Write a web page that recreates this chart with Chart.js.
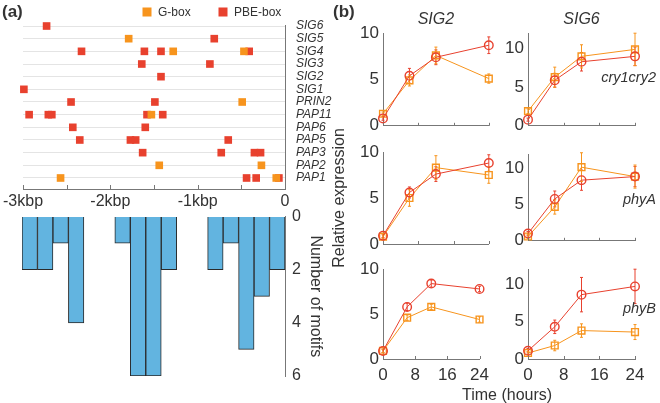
<!DOCTYPE html>
<html><head><meta charset="utf-8">
<script src="https://cdn.jsdelivr.net/npm/chart.js@4.4.1/dist/chart.umd.min.js"></script>
<style>
body{margin:0;background:#fff;}
#wrap{position:relative;width:660px;height:403px;overflow:hidden;font-family:'Liberation Sans',Arial,sans-serif;color:#333;background:#fff;}
canvas{position:absolute;}
.lbl{position:absolute;white-space:nowrap;line-height:1;}
</style></head><body>
<div id="wrap">
<canvas id="cA" width="340" height="212" style="left:0;top:0;width:340px;height:212px"></canvas>
<canvas id="cB" width="325" height="203" style="left:0;top:200px;width:325px;height:203px"></canvas>
<canvas id="c11" width="165" height="140" style="left:330px;top:0;width:165px;height:140px"></canvas>
<canvas id="c12" width="165" height="140" style="left:495px;top:0;width:165px;height:140px"></canvas>
<canvas id="c21" width="165" height="170" style="left:330px;top:110px;width:165px;height:170px"></canvas>
<canvas id="c22" width="165" height="115" style="left:495px;top:140px;width:165px;height:115px"></canvas>
<canvas id="c31" width="165" height="148" style="left:330px;top:255px;width:165px;height:148px"></canvas>
<canvas id="c32" width="165" height="148" style="left:495px;top:255px;width:165px;height:148px"></canvas>
<div class="lbl" style="left:2px;top:3px;font-size:17px;font-weight:bold;">(a)</div>
<div class="lbl" style="left:333px;top:3px;font-size:17px;font-weight:bold;">(b)</div>
<div class="lbl" style="left:462px;top:387px;font-size:16px;">Time (hours)</div>
<div class="lbl" style="right:4px;top:70px;font-size:14.5px;font-style:italic;">cry1cry2</div>
<div class="lbl" style="right:4px;top:192px;font-size:14.5px;font-style:italic;">phyA</div>
<div class="lbl" style="right:4px;top:301px;font-size:14.5px;font-style:italic;">phyB</div>
</div>
<script>
// ---------- Panel (a): motif positions ----------
const genes = ['PAP1','PAP2','PAP3','PAP5','PAP6','PAP11','PRIN2','SIG1','SIG2','SIG3','SIG4','SIG5','SIG6'];
const gboxGene = ['SIG5','SIG4','SIG4','PRIN2','PAP11','PAP2','PAP2','PAP1','PAP1'];
const gboxPos  = [-1.79,-1.28,-0.47,-0.49,-1.53,-1.44,-0.27,-2.57,-0.10];
const pbeGene = ['SIG6','SIG5','SIG4','SIG4','SIG4','SIG4','SIG3','SIG3','SIG2','SIG1',
                 'PRIN2','PRIN2','PAP11','PAP11','PAP11','PAP11','PAP11','PAP6','PAP6',
                 'PAP5','PAP5','PAP5','PAP5','PAP3','PAP3','PAP3','PAP3','PAP1','PAP1','PAP1'];
const pbePos  = [-2.73,-0.81,-2.33,-1.61,-1.42,-0.41,-1.64,-0.86,-1.42,-2.99,
                 -2.45,-1.49,-2.93,-2.71,-2.67,-1.58,-1.40,-2.43,-1.60,
                 -2.35,-1.77,-1.71,-0.65,-1.63,-0.73,-0.35,-0.28,-0.44,-0.33,-0.07];
const kbpTicks = ['-3kbp','-2kbp','-1kbp','0'];
// histogram of motifs (17 bins across -3..0 kbp)
const binStarts = ['-3.00','-2.82','-2.65','-2.47','-2.29','-2.12','-1.94','-1.76','-1.59','-1.41','-1.24','-1.06','-0.88','-0.71','-0.53','-0.35','-0.18'];
const binCounts = [2,2,1,4,0,0,1,6,6,2,0,0,2,1,5,3,2];
const motifTicks = [0,2,4,6];

// ---------- Panel (b): expression time courses ----------
const times = [0,6,12,24];
const wtLabel = 'WT', mutLabel = 'mutant';
const sig2_cry_wt  = [0.8,5.4,7.4,8.7], sig2_cry_wt_err  = [0.2,0.8,0.8,0.9];
const sig2_cry_mut = [1.3,4.9,7.6,5.1], sig2_cry_mut_err = [0.2,0.6,0.9,0.5];
const sig6_cry_wt  = [0.8,5.9,8.3,9.0], sig6_cry_wt_err  = [0.2,0.9,1.2,1.2];
const sig6_cry_mut = [1.9,6.3,9.0,9.9], sig6_cry_mut_err = [0.3,1.3,1.5,2.1];
const sig2_phyA_wt  = [0.9,5.6,7.6,8.8], sig2_phyA_wt_err  = [0.2,0.6,0.8,0.9];
const sig2_phyA_mut = [0.8,5.0,8.3,7.5], sig2_phyA_mut_err = [0.2,0.9,1.3,0.9];
const sig6_phyA_wt  = [1.0,5.8,8.4,8.9], sig6_phyA_wt_err  = [0.3,1.1,1.4,1.4];
const sig6_phyA_mut = [0.6,4.7,10.2,8.9], sig6_phyA_mut_err = [0.3,1.0,2.0,1.6];
const sig2_phyB_wt  = [0.9,5.8,8.4,7.8], sig2_phyB_wt_err  = [0.2,0.4,0.4,0.3];
const sig2_phyB_mut = [0.9,4.6,5.8,4.4], sig2_phyB_mut_err = [0.2,0.3,0.3,0.3];
const sig6_phyB_wt  = [1.1,4.3,8.6,9.7], sig6_phyB_wt_err  = [0.3,0.9,2.3,2.3];
const sig6_phyB_mut = [0.8,1.8,3.8,3.6], sig6_phyB_mut_err = [0.2,0.7,0.9,1.0];
const timeTicks = [0,8,16,24];
const exprTicks = [0,5,10];

// ---------- styling ----------
const RED = '#e8412e', ORANGE = '#f7941d', AXIS = '#777', TXT = '#333', BLUE = '#62b4e0';
Chart.defaults.font.family = "'Liberation Sans', Arial, sans-serif";
Chart.defaults.color = TXT;
Chart.defaults.animation = false;
Chart.defaults.responsive = false;
Chart.defaults.devicePixelRatio = 1;
Chart.defaults.plugins.tooltip.enabled = false;
Chart.defaults.events = [];

const fixW = w => s => { s.width = w; };
const fixH = h => s => { s.height = h; };
const setTicks = arr => s => { s.ticks = arr.map(v => ({value: v})); };

const inTicks = {
  id: 'inTicks',
  afterDatasetsDraw(chart, args, o) {
    if (!o || !o.len) return;
    const ctx = chart.ctx, s = chart.scales.x;
    ctx.save(); ctx.strokeStyle = o.color || AXIS; ctx.lineWidth = 1;
    s.ticks.forEach(t => {
      const x = Math.round(s.getPixelForValue(t.value)) + 0.5;
      ctx.beginPath(); ctx.moveTo(x, s.top); ctx.lineTo(x, s.top - o.len); ctx.stroke();
    });
    ctx.restore();
  }
};
const errBars = {
  id: 'errBars',
  beforeDatasetsDraw(chart) {
    const ctx = chart.ctx, ys = chart.scales.y;
    chart.data.datasets.forEach((ds, i) => {
      if (!ds.errors) return;
      const meta = chart.getDatasetMeta(i);
      ctx.save(); ctx.strokeStyle = ds.borderColor; ctx.lineWidth = 1;
      meta.data.forEach((pt, j) => {
        const v = ds.data[j].y, e = ds.errors[j];
        const y1 = ys.getPixelForValue(v - e), y2 = ys.getPixelForValue(v + e);
        ctx.beginPath();
        ctx.moveTo(pt.x, y1); ctx.lineTo(pt.x, y2);
        ctx.moveTo(pt.x - 1.5, y1); ctx.lineTo(pt.x + 1.5, y1);
        ctx.moveTo(pt.x - 1.5, y2); ctx.lineTo(pt.x + 1.5, y2);
        ctx.stroke();
      });
      ctx.restore();
    });
  }
};
const boxLegend = {
  id: 'boxLegend',
  afterDraw(chart, args, o) {
    const ctx = chart.ctx;
    ctx.save();
    ctx.font = "12px 'Liberation Sans', Arial, sans-serif";
    ctx.textBaseline = 'middle'; ctx.fillStyle = TXT;
    chart.data.datasets.forEach((ds, i) => {
      const it = o.items[i];
      ctx.fillStyle = ds.backgroundColor;
      ctx.fillRect(it.x - 4.5, it.y - 4.5, 9, 9);
      ctx.fillStyle = TXT;
      ctx.fillText(ds.label, it.x + 11, it.y + 0.5);
    });
    ctx.restore();
  }
};

// ---- (a) top: motif positions ----
const toPts = (pos, gn) => pos.map((x, i) => ({x: x, y: genes.indexOf(gn[i])}));
new Chart(document.getElementById('cA'), {
  type: 'scatter',
  data: { datasets: [
    {label: 'G-box', data: toPts(gboxPos, gboxGene), backgroundColor: ORANGE, borderWidth: 0, pointStyle: 'rect', pointRadius: 5.4, clip: false},
    {label: 'PBE-box', data: toPts(pbePos, pbeGene), backgroundColor: RED, borderWidth: 0, pointStyle: 'rect', pointRadius: 5.4, clip: false}
  ]},
  options: {
    layout: {padding: {left: 22, top: 25, right: 0, bottom: 0}},
    plugins: {legend: {display: false},
      boxLegend: {items: [{x: 147, y: 12}, {x: 223, y: 12}]},
      inTicks: {len: 4, color: AXIS}},
    scales: {
      x: {type: 'linear', min: -3, max: 0, position: 'bottom', afterFit: fixH(23),
          grid: {drawOnChartArea: false, drawTicks: false}, border: {color: AXIS},
          ticks: {stepSize: 0.5, padding: 3, maxRotation: 0, autoSkip: false, font: {size: 16}, color: TXT,
                  callback: v => Number.isInteger(v) ? kbpTicks[v + 3] : ''}},
      y: {type: 'linear', position: 'right', min: -0.87, max: 12.08, afterFit: fixW(55),
          grid: {color: '#e4e4e4', drawTicks: false}, border: {color: AXIS},
          ticks: {stepSize: 1, includeBounds: false, padding: 11, autoSkip: false, font: {size: 12, style: 'italic'}, color: TXT,
                  callback: v => (Number.isInteger(v) && genes[v]) ? genes[v] : ''}}
    }
  },
  plugins: [boxLegend, inTicks]
});

// ---- (a) bottom: histogram ----
new Chart(document.getElementById('cB'), {
  type: 'bar',
  data: { labels: binStarts, datasets: [
    {label: 'Number of motifs', data: binCounts, backgroundColor: BLUE, borderColor: '#2a2a2a', borderWidth: 1,
     borderSkipped: 'start', barPercentage: 1, categoryPercentage: 1}
  ]},
  options: {
    layout: {padding: {left: 22, top: 12, right: 0, bottom: 27}},
    plugins: {legend: {display: false}},
    scales: {
      x: {display: false},
      y: {position: 'right', reverse: true, min: 0, max: 6, afterFit: fixW(40), afterBuildTicks: setTicks(motifTicks),
          grid: {drawOnChartArea: false, drawTicks: false}, border: {color: AXIS},
          ticks: {padding: 7, font: {size: 16}, color: TXT},
          title: {display: true, text: 'Number of motifs', font: {size: 16}, color: TXT, padding: 0}}
    }
  }
});

// ---- (b) line charts ----
const mkPts = arr => times.map((t, i) => ({x: t, y: arr[i]}));
function lineChart(id, o) {
  const ds = [
    {label: wtLabel, data: mkPts(o.wt), errors: o.wtErr, borderColor: RED, backgroundColor: 'rgba(0,0,0,0)',
     pointStyle: 'circle', pointRadius: 4.3, pointBorderWidth: 1.4, borderWidth: 1, clip: false},
    {label: mutLabel, data: mkPts(o.mut), errors: o.mutErr, borderColor: ORANGE, backgroundColor: 'rgba(0,0,0,0)',
     pointStyle: 'rect', pointRadius: 4.8, pointBorderWidth: 1.4, borderWidth: 1, clip: false}
  ];
  return new Chart(document.getElementById(id), {
    type: 'line',
    data: {datasets: ds},
    options: {
      layout: {padding: o.pad},
      plugins: {legend: {display: false}, inTicks: {len: 3, color: AXIS},
        title: o.title ? {display: true, text: o.title, fullSize: false, font: {size: 16, style: 'italic', weight: 'normal'}, color: TXT, padding: {top: 10, bottom: 4}} : {display: false}},
      scales: {
        x: {type: 'linear', min: 0, max: 24, afterFit: fixH(o.xh), afterBuildTicks: setTicks(timeTicks),
            grid: {drawOnChartArea: false, drawTicks: false}, border: {color: AXIS},
            ticks: {display: !!o.xlab, padding: 6, font: {size: 17}, color: TXT, maxRotation: 0}},
        y: {type: 'linear', min: 0, max: o.ymax, afterFit: fixW(o.yw), afterBuildTicks: setTicks(exprTicks),
            grid: {drawOnChartArea: false, drawTicks: false}, border: {color: AXIS},
            ticks: {padding: 4, font: {size: 17}, color: TXT},
            title: o.ytitle ? {display: true, text: o.ytitle, font: {size: 16}, color: TXT, padding: 0} : {display: false}}
      }
    },
    plugins: [errBars, inTicks]
  });
}
lineChart('c11', {wt: sig2_cry_wt, wtErr: sig2_cry_wt_err, mut: sig2_cry_mut, mutErr: sig2_cry_mut_err, ymax: 10, title: 'SIG2',
  pad: {top: 0, right: 5, left: 0, bottom: 0}, xh: 13, yw: 53});
lineChart('c12', {wt: sig6_cry_wt, wtErr: sig6_cry_wt_err, mut: sig6_cry_mut, mutErr: sig6_cry_mut_err, ymax: 12, title: 'SIG6',
  pad: {top: 0, right: 25, left: 0, bottom: 0}, xh: 13, yw: 33});
lineChart('c21', {wt: sig2_phyA_wt, wtErr: sig2_phyA_wt_err, mut: sig2_phyA_mut, mutErr: sig2_phyA_mut_err, ymax: 10, ytitle: 'Relative expression',
  pad: {top: 42, right: 5, left: 0, bottom: 25}, xh: 11, yw: 53});
lineChart('c22', {wt: sig6_phyA_wt, wtErr: sig6_phyA_wt_err, mut: sig6_phyA_mut, mutErr: sig6_phyA_mut_err, ymax: 12,
  pad: {top: 12, right: 25, left: 0, bottom: 0}, xh: 11, yw: 33});
lineChart('c31', {wt: sig2_phyB_wt, wtErr: sig2_phyB_wt_err, mut: sig2_phyB_mut, mutErr: sig2_phyB_mut_err, ymax: 10, xlab: true,
  pad: {top: 12, right: 5, left: 0, bottom: 0}, xh: 44, yw: 53});
lineChart('c32', {wt: sig6_phyB_wt, wtErr: sig6_phyB_wt_err, mut: sig6_phyB_mut, mutErr: sig6_phyB_mut_err, ymax: 12, xlab: true,
  pad: {top: 12, right: 25, left: 0, bottom: 0}, xh: 44, yw: 33});
</script>
</body></html>
